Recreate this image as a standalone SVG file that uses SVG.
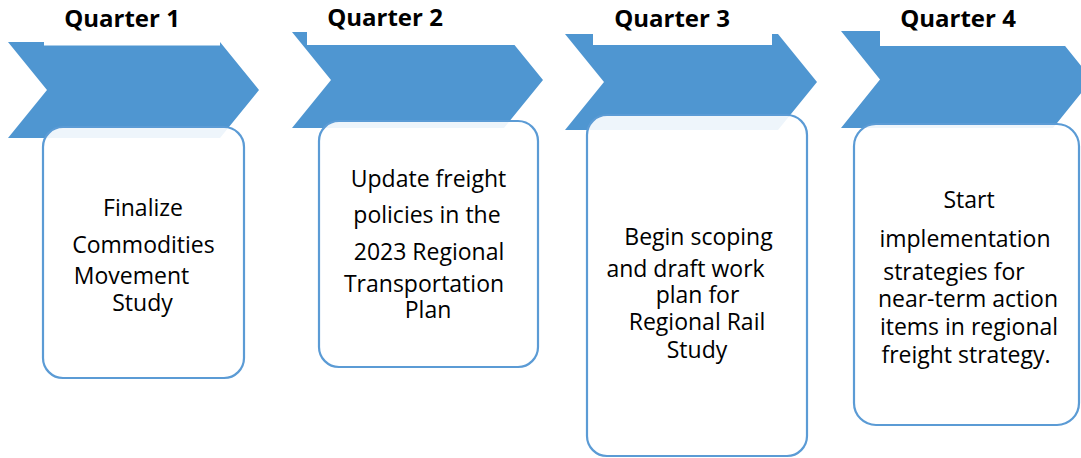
<svg xmlns="http://www.w3.org/2000/svg" width="1081" height="458" viewBox="0 0 1081 458">
<style>
.chev{fill:#4F96D1;}
.cap{fill:#FFFFFF;}
.box{fill:#FFFFFF;fill-opacity:0.9;stroke:#5B9BD5;stroke-width:2.2;}
.ttl{font-family:"Open Sans","Liberation Sans",sans-serif;font-weight:bold;font-size:24px;fill:#000;text-anchor:middle;}
.txt{font-family:"Open Sans","Liberation Sans",sans-serif;font-size:23px;fill:#000;text-anchor:middle;}
</style>
<rect width="1081" height="458" fill="#FFFFFF"/>
<g id="q1">
<polygon class="chev" points="8,42 220,42 259,90 220,138 8,138 47,90"/>
<rect class="cap" x="44" y="0" width="176" height="45.5"/>
<text class="ttl" x="122" y="27">Quarter 1</text>
<rect class="box" x="43" y="127" width="201" height="251" rx="20"/>
<text class="txt"><tspan x="143" y="216">Finalize</tspan><tspan x="143.5" y="253">Commodities</tspan><tspan x="131.5" y="284">Movement</tspan><tspan x="142.5" y="311">Study</tspan></text>
</g>
<g id="q2">
<polygon class="chev" points="292,32 504,32 543,80 504,128 292,128 331,80"/>
<rect class="cap" x="307" y="0" width="215" height="45"/>
<text class="ttl" x="385" y="26">Quarter 2</text>
<rect class="box" x="319" y="121" width="219" height="246" rx="20"/>
<text class="txt"><tspan x="428.5" y="187">Update freight</tspan><tspan x="427" y="223">policies in the</tspan><tspan x="429" y="260">2023 Regional</tspan><tspan x="424" y="292">Transportation</tspan><tspan x="428" y="318">Plan</tspan></text>
</g>
<g id="q3">
<polygon class="chev" points="565,34 778,34 817,82 778,130 565,130 604,82"/>
<rect class="cap" x="593" y="0" width="179" height="45"/>
<text class="ttl" x="672" y="27">Quarter 3</text>
<rect class="box" x="587" y="115" width="220" height="341" rx="20"/>
<text class="txt"><tspan x="698.5" y="245">Begin scoping</tspan><tspan x="685.5" y="277">and draft work</tspan><tspan x="697.5" y="303">plan for</tspan><tspan x="697" y="330">Regional Rail</tspan><tspan x="697" y="358">Study</tspan></text>
</g>
<g id="q4">
<polygon class="chev" points="841,31 1053,31 1092,79.5 1053,128 841,128 880,79.5"/>
<rect class="cap" x="880" y="0" width="201" height="46"/>
<text class="ttl" x="958" y="27">Quarter 4</text>
<rect class="box" x="854" y="124" width="225" height="301" rx="22"/>
<text class="txt"><tspan x="969" y="208">Start</tspan><tspan x="965" y="247">implementation</tspan><tspan x="954" y="280">strategies for</tspan><tspan x="968" y="307">near-term action</tspan><tspan x="969" y="335">items in regional</tspan><tspan x="966" y="363">freight strategy.</tspan></text>
</g>
<g id="connectors"></g>
</svg>
